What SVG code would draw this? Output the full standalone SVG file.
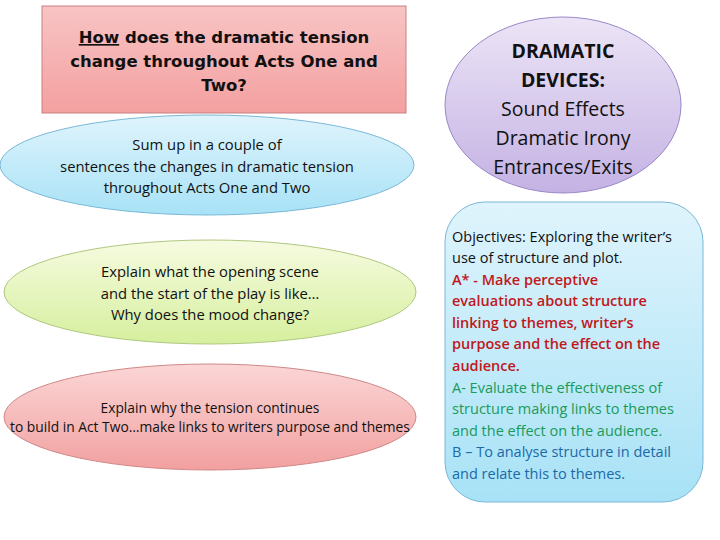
<svg xmlns="http://www.w3.org/2000/svg" width="720" height="540" viewBox="0 0 720 540">
<defs>
<linearGradient id="gr" x1="0" y1="0" x2="0" y2="1"><stop offset="0" stop-color="#f8c4c4"/><stop offset="1" stop-color="#f4a0a0"/></linearGradient>
<linearGradient id="gb" x1="0" y1="0" x2="0" y2="1"><stop offset="0" stop-color="#dff4fc"/><stop offset="1" stop-color="#a8e2f6"/></linearGradient>
<linearGradient id="gg" x1="0" y1="0" x2="0" y2="1"><stop offset="0" stop-color="#f6fbe0"/><stop offset="1" stop-color="#d6ef9e"/></linearGradient>
<linearGradient id="gp" x1="0" y1="0" x2="0" y2="1"><stop offset="0" stop-color="#fbd6d6"/><stop offset="1" stop-color="#f2a0a0"/></linearGradient>
<linearGradient id="gv" x1="0" y1="0" x2="0" y2="1"><stop offset="0" stop-color="#ece4f6"/><stop offset="1" stop-color="#c4b2e4"/></linearGradient>
</defs>
<style>
.b{font-family:"Open Sans","Noto Sans",sans-serif;text-anchor:middle;fill:#111}
.t{font-family:"DejaVu Sans",sans-serif;font-weight:bold;font-size:16.5px;text-anchor:middle;fill:#111}
.o{font-family:"Open Sans","Noto Sans",sans-serif;font-size:14.5px;font-weight:600}
</style>
<rect width="720" height="540" fill="#fff"/>
<g id="title">
<rect x="42" y="6" width="364" height="107" fill="url(#gr)" stroke="#c98080"/>
<text class="t" x="224" y="43"><tspan text-decoration="underline">How</tspan> does the dramatic tension</text>
<text class="t" x="224" y="67">change throughout Acts One and</text>
<text class="t" x="224" y="91">Two?</text>
</g>
<g id="sumup">
<ellipse cx="207" cy="165" rx="207" ry="50" fill="url(#gb)" stroke="#7ab8d8"/>
<text class="b" x="207" y="150" font-size="14.8">Sum up in a couple of</text>
<text class="b" x="207" y="172" font-size="14.8">sentences the changes in dramatic tension</text>
<text class="b" x="207" y="193" font-size="14.8">throughout Acts One and Two</text>
</g>
<g id="explain1">
<ellipse cx="210" cy="292" rx="206" ry="52" fill="url(#gg)" stroke="#b0c880"/>
<text class="b" x="210" y="277" font-size="14.8">Explain what the opening scene</text>
<text class="b" x="210" y="299" font-size="14.8">and the start of the play is like…</text>
<text class="b" x="210" y="320" font-size="14.8">Why does the mood change?</text>
</g>
<g id="explain2">
<ellipse cx="210" cy="417" rx="206" ry="53" fill="url(#gp)" stroke="#d08888"/>
<text class="b" x="210" y="413" font-size="13.8">Explain why the tension continues</text>
<text class="b" x="210" y="432" font-size="13.8">to build in Act Two…make links to writers purpose and themes</text>
</g>
<g id="devices">
<ellipse cx="563" cy="105" rx="118" ry="88" fill="url(#gv)" stroke="#9a88c8"/>
<text class="b" x="563" y="58" font-size="19.5" font-weight="bold">DRAMATIC</text>
<text class="b" x="563" y="87" font-size="19.5" font-weight="bold">DEVICES:</text>
<text class="b" x="563" y="116" font-size="19.5">Sound Effects</text>
<text class="b" x="563" y="145" font-size="19.5">Dramatic Irony</text>
<text class="b" x="563" y="174" font-size="19.5">Entrances/Exits</text>
</g>
<g id="objectives">
<rect x="445" y="202" width="258" height="300" rx="40" fill="url(#gb)" stroke="#7ab8d8"/>
<g class="o">
<text x="452" y="242" fill="#111" font-weight="normal">Objectives: Exploring the writer’s</text>
<text x="452" y="263" fill="#111" font-weight="normal">use of structure and plot.</text>
<text x="452" y="285" fill="#c0181c">A* - Make perceptive</text>
<text x="452" y="306" fill="#c0181c">evaluations about structure</text>
<text x="452" y="328" fill="#c0181c">linking to themes, writer’s</text>
<text x="452" y="349" fill="#c0181c">purpose and the effect on the</text>
<text x="452" y="371" fill="#c0181c">audience.</text>
<text x="452" y="393" fill="#1a9a5a" font-weight="normal">A- Evaluate the effectiveness of</text>
<text x="452" y="414" fill="#1a9a5a" font-weight="normal">structure making links to themes</text>
<text x="452" y="436" fill="#1a9a5a" font-weight="normal">and the effect on the audience.</text>
<text x="452" y="457" fill="#1a6aa8" font-weight="normal">B – To analyse structure in detail</text>
<text x="452" y="479" fill="#1a6aa8" font-weight="normal">and relate this to themes.</text>
</g>
</g>
<g id="connectors"/>
</svg>
